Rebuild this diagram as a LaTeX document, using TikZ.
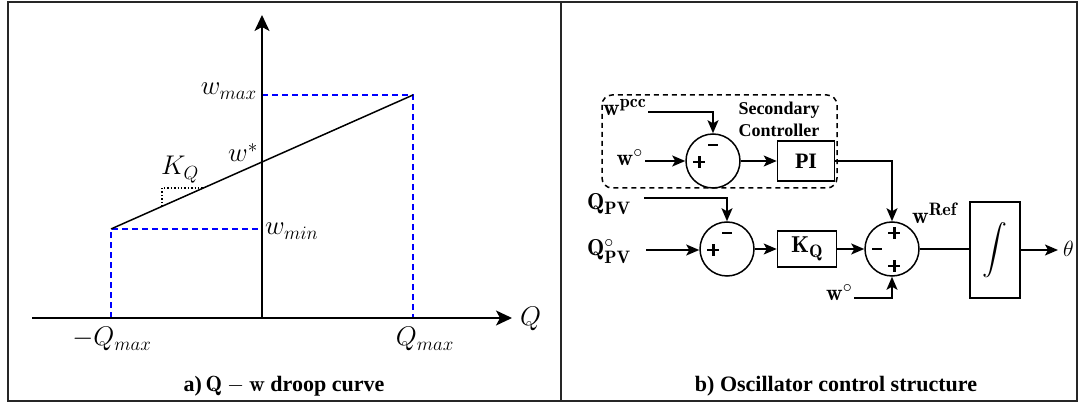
\RequirePackage{fix-cm}
\documentclass[tikz,border=0pt]{standalone}
\usepackage{exscale}
\usepackage{fontspec}
\newfontfamily\tnr{Liberation Serif}
\usetikzlibrary{arrows.meta}
\DeclareMathSizes{27}{27}{19}{14}
\DeclareMathSizes{23}{23}{18}{13}
\newcommand{\bplus}{\rlap{\rule[4.6pt]{12pt}{2.8pt}}\hspace{4.6pt}\rule{2.8pt}{12pt}\hspace{4.6pt}}
\newcommand{\bminus}{\rule{10pt}{2.8pt}}
\begin{document}
\begin{tikzpicture}[x=1pt,y=-1pt,
  axis/.style={line width=1.5pt, -{Stealth[length=16pt,width=15pt,inset=4pt]}},
  guide/.style={blue, line width=1.4pt, dash pattern=on 6pt off 4pt},
  sig/.style={line width=1.5pt},
  sarrow/.style={line width=1.5pt, -{Stealth[length=13pt,width=11pt,inset=3pt]}},
  sumnode/.style={circle, draw, line width=1.5pt, minimum size=54pt, inner sep=0pt},
  blk/.style={draw, line width=1.5pt, inner sep=0pt, anchor=center},
  lbl/.style={font=\fontsize{27}{30}\selectfont, inner sep=0pt},
  rlbl/.style={font=\fontsize{23}{26}\selectfont, inner sep=0pt},
  captext/.style={font=\fontsize{22}{26}\selectfont\tnr\bfseries, inner sep=0pt},
  sgn/.style={inner sep=0pt},
]
\useasboundingbox (0,0) rectangle (1080,403);
\draw[line width=2pt, black!85] (8,2) rectangle (1077,401);
\draw[line width=2pt, black!85] (561,2) -- (561,401);

% ---------- left panel ----------
\coordinate (xs) at (32,318);
\coordinate (xe) at (512,318);
\coordinate (ys) at (262,318);
\coordinate (ye) at (262,15);
\coordinate (A) at (111,229);
\coordinate (B) at (413,95);
\coordinate (A0) at (111,318);
\coordinate (B0) at (413,318);
\coordinate (Ay) at (262,229);
\coordinate (By) at (262,95);
\coordinate (k1) at (162,206.4);
\coordinate (k2) at (162,188);
\coordinate (k3) at (203.4,188);
\draw[guide] (A0) -- (A) -- (Ay);
\draw[guide] (By) -- (B) -- (B0);
\draw[axis] (xs) -- (xe);
\draw[axis] (ys) -- (ye);
\draw[sig] (A) -- (B);
\draw[dotted, line width=1.4pt] (k1) -- (k2) -- (k3);

\node[lbl, anchor=base east] (wmax) at (257,95) {$w_{max}$};
\node[lbl, anchor=base west] (wmin) at (265,235) {$w_{min}$};
\node[lbl, anchor=base east] (wstar) at (258,162) {$w^{*}$};
\node[lbl, anchor=base west] (kq) at (161,175) {$K_Q$};
\node[lbl, anchor=base] (mqmax) at (112,346) {$-Q_{max}$};
\node[lbl, anchor=base] (qmax) at (425,346) {$Q_{max}$};
\node[lbl, anchor=base west] (qax) at (520,326) {$Q$};
\node[captext, anchor=base] (capa) at (284,392) {a)\,$\mathbf{Q-w}$ droop curve};
\node[captext, anchor=base] (capb) at (836,392) {b) Oscillator control structure};

% ---------- right panel ----------
\draw[line width=1.5pt, dash pattern=on 5pt off 4pt, rounded corners=10pt] (602,95) rectangle (837,188);
\node[font=\fontsize{18}{22}\selectfont\tnr\bfseries, align=center, inner sep=0pt] (sec) at (779,119) {Secondary\\Controller};

\node[sumnode] (s1) at (713,161) {};
\node[sumnode] (s2) at (727,249) {};
\node[sumnode] (s3) at (892,249) {};
\node[blk, minimum width=57pt, minimum height=40pt, font=\fontsize{22}{24}\selectfont\tnr\bfseries] (pi) at (806,161) {PI};
\node[blk, minimum width=59pt, minimum height=36pt, font=\fontsize{23}{26}\selectfont] (kqb) at (807,249) {$\mathbf{K_Q}$};
\node[blk, minimum width=50pt, minimum height=96pt, font=\fontsize{24}{28}\selectfont] (int) at (995,250) {$\displaystyle\int$};

% signs
\node[sgn] (m1) at (713,145) {\bminus};
\node[sgn] (p1) at (697,162) {\bplus};
\node[sgn] (m2) at (727,233) {\bminus};
\node[sgn] (p2) at (711,250) {\bplus};
\node[sgn] (p3a) at (892,233) {\bplus};
\node[sgn] (m3) at (877,249) {\bminus};
\node[sgn] (p3b) at (892,266) {\bplus};

% labels
\node[rlbl, anchor=base west] (wpcc) at (603,116) {$\mathbf{w}^{\mathbf{pcc}}$};
\node[rlbl, anchor=base east] (wo1) at (643,166) {$\mathbf{w}^{\circ}$};
\node[rlbl, anchor=base west] (qpv) at (587,210) {$\mathbf{Q_{PV}}$};
\node[rlbl, anchor=base west] (qpvo) at (587,256) {$\mathbf{Q^{\circ}_{PV}}$};
\node[rlbl, anchor=base west] (wref) at (912,224) {$\mathbf{w}^{\mathbf{Ref}}$};
\node[rlbl, anchor=base west] (wo2) at (826,301) {$\mathbf{w}^{\circ}$};
\node[font=\fontsize{22}{26}\selectfont, anchor=base west, inner sep=0pt] (theta) at (1063,257) {$\theta$};

% connectors
\coordinate (c1) at (648,112);
\coordinate (c2) at (645,161);
\coordinate (c3) at (644,198);
\coordinate (c4) at (646,250);
\coordinate (c5) at (854,298);
\coordinate (c6) at (1058,250);
\draw[sarrow] (c1) -| (s1.north);
\draw[sarrow] (c2) -- (s1.west);
\draw[sarrow] (s1.east) -- (pi.west);
\draw[sarrow] (pi.east) -| (s3.north);
\draw[sarrow] (c3) -| (s2.north);
\draw[sarrow] (c4) -- (c4 -| s2.west);
\draw[sarrow] (s2.east) -- (kqb.west);
\draw[sarrow] (kqb.east) -- (s3.west);
\draw[sarrow] (c5) -| (s3.south);
\draw[sig] (s3.east) -- (s3.east -| int.west);
\draw[sarrow] (int.east) -- (c6);
\end{tikzpicture}
\end{document}
